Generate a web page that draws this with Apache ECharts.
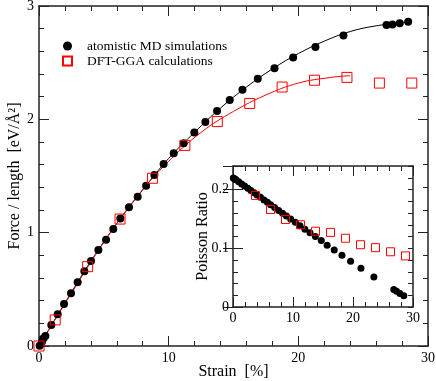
<!DOCTYPE html>
<html>
<head>
<meta charset="utf-8">
<script src="https://cdn.jsdelivr.net/npm/echarts@6/dist/echarts.min.js"></script>
<style>
  html, body { margin: 0; padding: 0; background: #fff; }
  #chart { width: 436px; height: 381px; }
</style>
</head>
<body>
<div id="chart"></div>
<script>
// atomistic MD: strain [%], force/length [eV/A^2], Poisson ratio
var mdStrain = [0.05, 0.23, 0.35, 0.49, 0.95, 1.44, 1.93, 2.47, 2.98, 3.50, 4.01, 4.58, 5.17, 5.73,
  6.27, 6.94, 7.61, 8.26, 8.90, 9.61, 10.39, 11.16, 11.98, 12.83, 13.73, 14.71, 15.69, 16.87,
  18.16, 19.60, 21.32, 23.48, 26.80, 27.26, 27.82, 28.47];
var mdForce = [0.003, 0.038, 0.068, 0.088, 0.185, 0.28, 0.37, 0.465, 0.562, 0.659, 0.750, 0.847, 0.938, 1.033,
  1.124, 1.224, 1.318, 1.415, 1.509, 1.606, 1.701, 1.789, 1.883, 1.977, 2.074, 2.171, 2.26, 2.357,
  2.451, 2.545, 2.639, 2.739, 2.833, 2.836, 2.848, 2.860];
var mdPoisson = [0.2196, 0.2183, 0.2174, 0.2164, 0.2131, 0.2095, 0.2059, 0.2020, 0.1982, 0.1945, 0.1907, 0.1866, 0.1823, 0.1782,
  0.1742, 0.1693, 0.1644, 0.1597, 0.1550, 0.1498, 0.1442, 0.1385, 0.1325, 0.1263, 0.120, 0.113, 0.105, 0.097,
  0.088, 0.078, 0.066, 0.051, 0.030, 0.027, 0.023, 0.019];

// DFT-GGA
var dftStrain = [0, 1.25, 3.75, 6.25, 8.75, 11.25, 13.75, 16.25, 18.75, 21.25, 23.75, 26.25, 28.75];
var dftForce = [0, 0.23, 0.70, 1.12, 1.48, 1.77, 1.98, 2.14, 2.285, 2.345, 2.37, 2.32, 2.32];
var dftPoissonStrain = [3.75, 6.25, 8.75, 11.25, 13.75, 16.25, 18.75, 21.25, 23.75, 26.25, 28.75];
var dftPoisson = [0.190, 0.166, 0.149, 0.140, 0.129, 0.127, 0.117, 0.106, 0.101, 0.094, 0.087];

// fitted curves
var mdFitStrain = [0, 2, 4, 6, 8, 10, 12, 14, 16, 18, 20, 22, 24, 26, 28.5];
var mdFitForce = [0, 0.38, 0.748, 1.08, 1.378, 1.655, 1.886, 2.10, 2.285, 2.445, 2.58, 2.69, 2.775, 2.825, 2.86];
var dftFitStrain = [0, 2.5, 5, 7.5, 10, 12.5, 15, 17.5, 20, 22.5, 24];
var dftFitForce = [0, 0.465, 0.915, 1.31, 1.63, 1.885, 2.07, 2.215, 2.32, 2.37, 2.385];

var legendNames = ['atomistic MD simulations', 'DFT-GGA calculations'];

var FONT = "'Liberation Serif', 'DejaVu Serif', serif";
var DARK = '#222';

function pairs(xs, ys) {
  return xs.map(function (x, i) { return [x, ys[i]]; });
}

function axis(gridIndex, position, min, max, interval, extra) {
  var a = {
    type: 'value',
    gridIndex: gridIndex,
    position: position,
    min: min,
    max: max,
    interval: interval,
    nameMoveOverlap: false,
    axisLine: { show: true, onZero: false, lineStyle: { color: DARK, width: 1.5 } },
    axisTick: { show: true, inside: true, length: 10, lineStyle: { color: DARK, width: 1 } },
    minorTick: { show: true, splitNumber: 5, length: 5, lineStyle: { color: DARK, width: 1 } },
    axisLabel: { show: false },
    splitLine: { show: false },
    minorSplitLine: { show: false }
  };
  return Object.assign(a, extra || {});
}

var labelStyle = { show: true, color: '#000', fontSize: 14, fontFamily: FONT };
var nameStyle = { color: '#000', fontSize: 16, fontFamily: FONT };

// inset y labels only at 0, 0.1, 0.2
function insetLabel(v) {
  var t = Math.round(v * 10);
  return Math.abs(v * 10 - t) < 1e-6 ? String(t / 10) : '';
}

var chart = echarts.init(document.getElementById('chart'));

chart.setOption({
  animation: false,
  backgroundColor: '#fff',
  grid: [
    { left: 39, top: 6, width: 389, height: 340, show: false, containLabel: false, outerBoundsMode: 'none' },
    { left: 233, top: 166, width: 180, height: 141, show: true, backgroundColor: '#fff', borderWidth: 0,
      containLabel: false, outerBoundsMode: 'none' }
  ],
  legend: {
    data: legendNames,
    orient: 'vertical',
    left: 62,
    top: 39,
    padding: 0,
    itemWidth: 9,
    itemHeight: 9,
    itemGap: 1,
    textStyle: { color: '#000', fontSize: 13.5, fontFamily: FONT, lineHeight: 13, padding: [0, 0, 0, 10] }
  },
  xAxis: [
    axis(0, 'bottom', 0, 30, 10, {
      axisLabel: Object.assign({ margin: 5 }, labelStyle),
      name: 'Strain  [%]', nameLocation: 'middle', nameGap: 18, nameTextStyle: nameStyle
    }),
    axis(0, 'top', 0, 30, 10),
    axis(1, 'bottom', 0, 30, 10, {
      axisLabel: Object.assign({ margin: 4 }, labelStyle)
    }),
    axis(1, 'top', 0, 30, 10)
  ],
  yAxis: [
    axis(0, 'left', 0, 3, 1, {
      axisLabel: Object.assign({ margin: 5 }, labelStyle),
      name: 'Force / length  [eV/Å²]', nameLocation: 'middle', nameGap: 16, nameTextStyle: nameStyle
    }),
    axis(0, 'right', 0, 3, 1),
    axis(1, 'left', 0, 0.24, 0.02, {
      minorTick: { show: false },
      axisTick: { show: true, inside: true, length: 5, lineStyle: { color: DARK, width: 1 } },
      axisLabel: Object.assign({ margin: 4, formatter: insetLabel }, labelStyle),
      name: 'Poisson Ratio', nameLocation: 'middle', nameGap: 22, nameTextStyle: nameStyle
    }),
    axis(1, 'left', 0, 0.24, 0.1, { minorTick: { show: false }, axisLine: { show: false } }),
    axis(1, 'right', 0, 0.24, 0.02, {
      minorTick: { show: false },
      axisTick: { show: true, inside: true, length: 5, lineStyle: { color: DARK, width: 1 } }
    }),
    axis(1, 'right', 0, 0.24, 0.1, { minorTick: { show: false }, axisLine: { show: false } })
  ],
  series: [
    {
      type: 'line', xAxisIndex: 0, yAxisIndex: 0, silent: true,
      data: pairs(mdFitStrain, mdFitForce), smooth: 0.4, showSymbol: false,
      lineStyle: { color: '#000', width: 1 }, z: 1
    },
    {
      type: 'line', xAxisIndex: 0, yAxisIndex: 0, silent: true,
      data: pairs(dftFitStrain, dftFitForce), smooth: 0.4, showSymbol: false,
      lineStyle: { color: '#ff0000', width: 1 }, z: 1
    },
    {
      name: legendNames[0], type: 'scatter', xAxisIndex: 0, yAxisIndex: 0, clip: false,
      data: pairs(mdStrain, mdForce), symbol: 'circle', symbolSize: 8,
      itemStyle: { color: '#000', opacity: 1 }, z: 3
    },
    {
      name: legendNames[1], type: 'scatter', xAxisIndex: 0, yAxisIndex: 0, clip: false,
      data: pairs(dftStrain, dftForce), symbol: 'rect', symbolSize: 10,
      itemStyle: { color: 'rgba(255,255,255,0)', borderColor: '#ff0000', borderWidth: 1, opacity: 1 }, z: 4
    },
    {
      name: legendNames[0], type: 'scatter', xAxisIndex: 2, yAxisIndex: 2, clip: false,
      data: pairs(mdStrain, mdPoisson), symbol: 'circle', symbolSize: 7,
      itemStyle: { color: '#000', opacity: 1 }, z: 3
    },
    {
      name: legendNames[1], type: 'scatter', xAxisIndex: 2, yAxisIndex: 2, clip: false,
      data: pairs(dftPoissonStrain, dftPoisson), symbol: 'rect', symbolSize: 8,
      itemStyle: { color: 'rgba(255,255,255,0)', borderColor: '#ff0000', borderWidth: 1, opacity: 1 }, z: 4
    }
  ]
});
</script>
</body>
</html>
